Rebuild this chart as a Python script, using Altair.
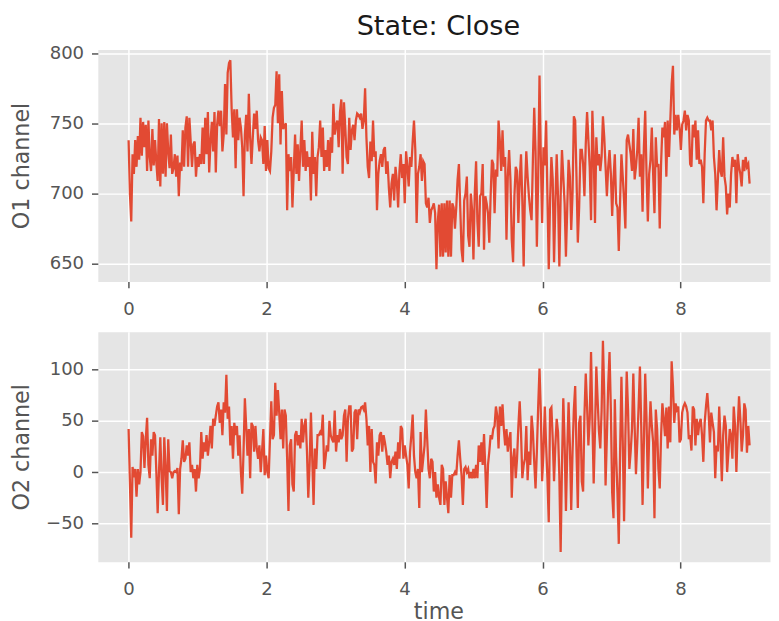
import altair as alt
import numpy as np
import pandas as pd

TITLE = "State: Close"
X_LABEL = "time"
Y1_LABEL = "O1 channel"
Y2_LABEL = "O2 channel"
T_START, T_END = 0.0, 9.0
X_TICKS = [0, 2, 4, 6, 8]
O1_TICKS = [650, 700, 750, 800]
O2_TICKS = [-50, 0, 50, 100]

O1 = [
    738, 700, 680, 728, 714, 738, 719, 741, 724, 754,
    727, 751, 733, 749, 716, 752, 726, 716, 746, 720,
    738, 722, 709, 753, 705, 750, 714, 751, 712, 750,
    730, 718, 742, 714, 718, 728, 712, 727, 698, 722,
    716, 745, 719, 747, 755, 719, 754, 737, 719, 735,
    737, 712, 726, 719, 728, 721, 747, 721, 754, 728,
    758, 715, 737, 751, 730, 758, 715, 749, 759, 748,
    759, 730, 742, 778, 742, 786, 793, 795, 760, 740,
    760, 718, 760, 738, 754, 747, 733, 698, 742, 756,
    730, 771, 740, 721, 740, 757, 746, 759, 738, 730,
    740, 738, 721, 748, 716, 738, 718, 716, 730, 754,
    761, 763, 787, 750, 785, 735, 773, 746, 748, 750,
    688, 728, 716, 726, 690, 716, 742, 714, 735, 709,
    731, 752, 719, 738, 716, 730, 719, 726, 695, 744,
    714, 726, 698, 726, 733, 752, 726, 747, 716, 731,
    719, 738, 716, 740, 729, 764, 742, 749, 752, 733,
    758, 767, 714, 765, 747, 726, 721, 754, 731, 745,
    749, 738, 752, 757, 756, 754, 757, 746, 752, 775,
    740, 719, 711, 737, 723, 752, 726, 730, 688, 714,
    723, 728, 719, 731, 733, 714, 723, 704, 690, 707,
    714, 695, 719, 709, 690, 716, 728, 711, 721, 693,
    730, 719, 705, 726, 719, 737, 752, 731, 679, 714,
    719, 728, 709, 723, 721, 693, 690, 697, 679, 688,
    690, 693, 686, 646, 680, 692, 655, 693, 655, 693,
    658, 695, 655, 695, 655, 693, 690, 675, 690, 710,
    721, 690, 660, 651, 695, 700, 712, 670, 662, 700,
    688, 653, 700, 723, 680, 662, 698, 700, 721, 660,
    698, 693, 686, 665, 698, 724, 721, 686, 717, 712,
    752, 737, 716, 745, 719, 726, 667, 712, 731, 710,
    667, 651, 698, 719, 716, 679, 709, 728, 695, 648,
    703, 730, 712, 698, 688, 681, 724, 761, 730, 662,
    712, 784, 726, 679, 733, 720, 752, 698, 646, 695,
    726, 710, 651, 693, 728, 698, 648, 698, 731, 712,
    693, 655, 690, 724, 712, 674, 700, 755, 752, 712,
    665, 690, 731, 731, 721, 698, 735, 758, 738, 719,
    681, 759, 730, 679, 740, 720, 728, 716, 726, 755,
    740, 719, 698, 719, 731, 714, 684, 710, 728, 693,
    690, 659, 695, 728, 712, 695, 675, 738, 742, 735,
    728, 716, 746, 710, 719, 731, 754, 712, 728, 687,
    733, 759, 714, 680, 714, 724, 747, 714, 686, 740,
    719, 721, 675, 721, 747, 740, 751, 712, 752, 726,
    752, 778, 791, 742, 756, 745, 756, 747, 731, 749,
    752, 759, 745, 756, 752, 721, 719, 749, 740, 752,
    724, 745, 721, 724, 719, 693, 728, 752, 754, 752,
    752, 745, 752, 726, 714, 688, 710, 731, 716, 712,
    740, 712, 705, 685, 700, 690, 714, 726, 719, 724,
    693, 728, 719, 714, 705, 724, 716, 726, 719, 721,
    707,
]

O2 = [
    42, -10, -64, 5, -5, 3, -24, 3, -12, 0,
    39, 35, 4, 32, 53, 7, -6, 32, 16, 39,
    36, 0, -40, 0, 34, -6, -32, 34, 4, -38,
    32, 1, 0, -6, 0, 1, 0, 4, -41, 3,
    13, 31, 10, 13, 26, 16, 29, 0, 7, -6,
    3, -19, 7, -6, 3, 39, 13, 29, 20, 36,
    16, 29, 45, 23, 52, 45, 55, 64, 68, 48,
    61, 36, 68, 58, 95, 52, 64, 26, 45, 13,
    48, 36, 45, 16, 36, 0, -21, 20, 72, 45,
    16, 42, -6, 48, 45, 20, 45, 23, 13, 26,
    0, 20, 42, -3, 16, 0, -6, 32, 69, 32,
    36, 87, 55, 80, 58, 32, 61, 23, 61, 55,
    13, -38, 26, 32, -12, -19, 36, 40, 26, 36,
    23, 52, 29, 45, 52, 20, -25, 7, 58, 13,
    -32, 23, 3, 36, 36, 39, 36, 56, 3, 13,
    26, 20, 50, 36, 32, 29, 60, 20, 36, 29,
    42, 32, 36, 55, 61, 10, 52, 64, 64, 20,
    23, 58, 61, 32, 61, 58, 63, 64, 61, 68,
    52, 26, 45, 0, 42, 10, 7, -11, 29, 16,
    36, 39, 20, 36, 29, 20, 7, 16, -6, 10,
    13, 7, 20, 3, 29, 13, 45, 42, 13, 26,
    16, 7, -16, 20, 36, 56, 16, 0, -6, 3,
    -35, 39, 0, 13, 26, 61, 32, 3, -6, 13,
    10, -19, 0, -25, -12, -25, -32, 7, 3, -32,
    -9, -25, -40, -3, -25, -3, -3, 0, -3, 16,
    31, 13, -3, -32, 3, 5, 0, 3, -6, 0,
    -6, 3, -6, 7, -6, 26, 10, 29, 7, 37,
    3, -35, 7, 20, 36, 32, 42, 45, 64, 55,
    23, 64, 45, 66, 42, 26, 42, 20, 32, 39,
    -25, 13, 23, -6, 13, 45, 69, 39, -6, 7,
    13, 45, -8, 20, 7, 55, 39, 10, -16, 20,
    64, 101, 58, -9, 20, 64, 26, -6, -49, 61,
    63, 32, -9, 26, 52, 39, -3, -78, 6, 72,
    29, -38, 20, 68, 26, -37, 20, 61, 84, 20,
    -35, 48, 55, -9, -19, 55, 96, 64, 26, 52,
    117, 52, -11, 40, 103, 70, 40, 23, 60, 128,
    75, -13, 35, 85, 117, 61, -20, -45, 71, 15,
    -20, -70, 20, 93, 30, -48, 35, 98, 61, 3,
    20, 42, 96, 45, -2, 29, 64, 103, 45, -32,
    29, 96, 52, -16, 35, 69, 45, 29, -45, 61,
    42, 3, -16, 35, 67, 52, 35, 63, 23, 64,
    29, 108, 84, 48, 67, 61, 64, 29, 32, 58,
    64, 67, 64, 58, 32, 36, 21, 64, 61, 26,
    52, 36, 48, 52, 36, 10, 48, 64, 77, 58,
    29, 58, 48, 39, -6, 26, 20, 64, 29, -9,
    36, 55, 45, 0, 20, 42, 36, 13, 64, 45,
    0, 42, 74, 52, 20, 36, 67, 61, 19, 45,
    26,
]

time = np.linspace(T_START, T_END, len(O1))
df1 = pd.DataFrame({"time": time, "value": O1})
df2 = pd.DataFrame({"time": time, "value": O2})
df_title = pd.DataFrame({"label": [TITLE]})

LINE = "#E24A33"
GRAY = "#555555"
FONT = "DejaVu Sans"
W = 681

x_scale = alt.Scale(domain=[-0.446, 9.296], nice=False, zero=False)

top_line = alt.Chart(df1).mark_line(color=LINE, strokeWidth=2.3, clip=True).encode(
    x=alt.X("time:Q", scale=x_scale,
            axis=alt.Axis(values=X_TICKS, title=None, format="d")),
    y=alt.Y("value:Q",
            scale=alt.Scale(domain=[637.3, 802.6], nice=False, zero=False),
            axis=alt.Axis(values=O1_TICKS, title=Y1_LABEL, titleX=-70,
                          titleBaseline="alphabetic")),
)

title_text = alt.Chart(df_title).mark_text(
    fontSize=27.5, font=FONT, color="#1a1a1a", baseline="alphabetic", align="center"
).encode(
    text="label:N",
    x=alt.value(345),
    y=alt.value(-15),
)

top = alt.layer(top_line, title_text).properties(width=W, height=235)

bottom = alt.Chart(df2).mark_line(color=LINE, strokeWidth=2.3, clip=True).encode(
    x=alt.X("time:Q", scale=x_scale,
            axis=alt.Axis(values=X_TICKS, title=X_LABEL, format="d",
                          titleX=345, titleY=57, titleAlign="center",
                          titleBaseline="alphabetic")),
    y=alt.Y("value:Q",
            scale=alt.Scale(domain=[-87.5, 136.8], nice=False, zero=False),
            axis=alt.Axis(values=O2_TICKS, title=Y2_LABEL, titleX=-70,
                          titleBaseline="alphabetic")),
).properties(width=W, height=233)

chart = alt.vconcat(top, bottom, spacing=12).configure_view(
    fill="#E5E5E5", stroke="transparent"
).configure_axis(
    domain=False, grid=True, gridColor="white", gridWidth=1.5,
    tickColor=GRAY, tickSize=6.4, tickWidth=1.5,
    labelColor=GRAY, labelFont=FONT, labelFontSize=18.3,
    titleColor=GRAY, titleFont=FONT, titleFontSize=22.5, titleFontWeight="normal",
    labelFlush=False, labelOverlap=False,
).configure_axisX(
    labelBaseline="alphabetic", labelPadding=27,
).configure_axisY(
    labelPadding=8, labelBaseline="middle",
).properties(
    padding={"left": 2, "top": 0, "right": 0, "bottom": 0},
    background="white",
)

chart.save("out.html", embed_options={"renderer": "svg", "actions": False})
